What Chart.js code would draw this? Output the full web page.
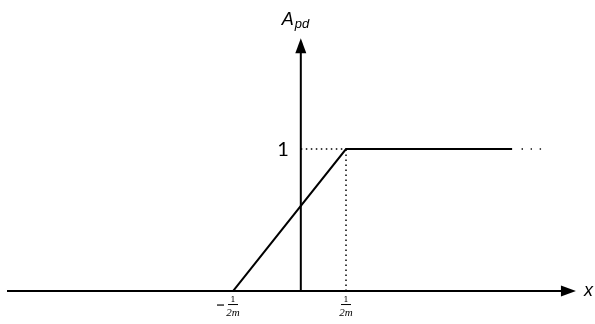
<!DOCTYPE html>
<html>
<head>
  <meta charset="UTF-8">
  <script src="https://cdn.jsdelivr.net/npm/chart.js@4"></script>
  <title>Apd ramp</title>
  <style>
    body { margin: 0; background: #fff; }
    #wrap { width: 595px; height: 324px; position: relative; }
  </style>
</head>
<body>
  <div id="wrap"><canvas id="myChart"></canvas></div>
  <script>
	// ramp: 0 up to 1 between -1/2m and 1/2m, then flat
	const rampX = [-1, 1, 3.94];
	const rampY = [0, 1, 1];
	// "..." after the flat part
	const dotsX = [4.12, 4.28, 4.44];
	const dotsY = [1, 1, 1];
	// dotted guides to the level 1
	const guideHX = [0.2, 1];
	const guideHY = [1, 1];
	const guideVX = [1, 1];
	const guideVY = [0, 1];
	// tick labels on the x axis
	const xTicks = [-1, 1];
	const tickSign = ['−', ''];
	const tickNum = ['1', '1'];
	const tickDen = ['2m', '2m'];
	const yLevel = 1;
	const yLevelLabel = '1';
	// axes
	const yAxisAt = 0.2;
	const xAxisFrom = -5, xAxisTo = 5.07;
	const yAxisTo = 1.78;

	const pts = (xs, ys) => xs.map((x, i) => ({ x: x, y: ys[i] }));

	// axes with arrows and all labels
	const axesPlugin = {
		id: 'axes',
		afterDatasetsDraw(chart) {
			const c = chart.ctx;
			const sx = chart.scales.x, sy = chart.scales.y;
			const ox = sx.getPixelForValue(yAxisAt);
			const oy = sy.getPixelForValue(0);
			const xEnd = sx.getPixelForValue(xAxisTo);
			const yEnd = sy.getPixelForValue(yAxisTo);
			c.save();
			c.strokeStyle = '#000';
			c.fillStyle = '#000';
			c.lineWidth = 2;
			c.beginPath();
			c.moveTo(sx.getPixelForValue(xAxisFrom), oy);
			c.lineTo(xEnd - 10, oy);
			c.moveTo(ox, oy);
			c.lineTo(ox, yEnd + 10);
			c.stroke();
			// arrow heads
			c.beginPath();
			c.moveTo(xEnd, oy);
			c.lineTo(xEnd - 15, oy - 5.5);
			c.lineTo(xEnd - 15, oy + 5.5);
			c.closePath();
			c.fill();
			c.beginPath();
			c.moveTo(ox, yEnd);
			c.lineTo(ox - 5.5, yEnd + 15);
			c.lineTo(ox + 5.5, yEnd + 15);
			c.closePath();
			c.fill();

			// axis titles
			c.textBaseline = 'alphabetic';
			c.textAlign = 'left';
			c.font = 'italic 18px "Liberation Sans", Arial, sans-serif';
			c.fillText('A', ox - 19, 25);
			c.font = 'italic 13px "Liberation Sans", Arial, sans-serif';
			c.fillText('pd', ox - 6, 28);
			c.font = 'italic 18px "Liberation Sans", Arial, sans-serif';
			c.textBaseline = 'middle';
			c.fillText('x', xEnd + 8, oy);

			// level label
			c.textAlign = 'right';
			c.font = '20px Lato, "Open Sans", sans-serif';
			c.fillText(yLevelLabel, ox - 12, sy.getPixelForValue(yLevel) + 1);

			// fraction ticks
			xTicks.forEach((t, i) => {
				const px = sx.getPixelForValue(t);
				c.textAlign = 'center';
				c.textBaseline = 'alphabetic';
				c.font = '8px "DejaVu Serif", serif';
				c.fillText(tickNum[i], px, oy + 11);
				c.lineWidth = 1;
				c.beginPath();
				c.moveTo(px - 5, oy + 13.5);
				c.lineTo(px + 5, oy + 13.5);
				c.stroke();
				c.font = 'italic 11px "Liberation Serif", serif';
				c.fillText(tickDen[i], px, oy + 25);
				if (tickSign[i]) {
					c.lineWidth = 1.2;
					c.beginPath();
					c.moveTo(px - 16, oy + 14);
					c.lineTo(px - 9, oy + 14);
					c.stroke();
				}
			});
			c.restore();
		}
	};

	const ctx = document.getElementById('myChart').getContext('2d');
	const myChart = new Chart(ctx, {
		type: 'line',
		data: {
			datasets: [{
				data: pts(rampX, rampY),
				borderColor: '#000',
				borderWidth: 2,
				pointRadius: 0,
				tension: 0
			}, {
				data: pts(dotsX, dotsY),
				showLine: false,
				pointStyle: 'rect',
				pointRadius: 1,
				backgroundColor: '#000',
				borderColor: '#000',
				borderWidth: 0
			}, {
				data: pts(guideHX, guideHY),
				borderColor: '#000',
				borderWidth: 1.5,
				borderDash: [1.5, 3.5],
				pointRadius: 0
			}, {
				data: pts(guideVX, guideVY),
				borderColor: '#000',
				borderWidth: 1.5,
				borderDash: [1.5, 3.5],
				pointRadius: 0
			}]
		},
		options: {
			responsive: true,
			maintainAspectRatio: false,
			animation: false,
			layout: { padding: 0, autoPadding: false },
			plugins: {
				legend: { display: false },
				tooltip: { enabled: false }
			},
			scales: {
				x: { type: 'linear', min: -5.124, max: 5.407, display: false },
				y: { type: 'linear', min: -0.232, max: 2.049, display: false }
			}
		},
		plugins: [axesPlugin]
	});
	</script>
</body>
</html>
